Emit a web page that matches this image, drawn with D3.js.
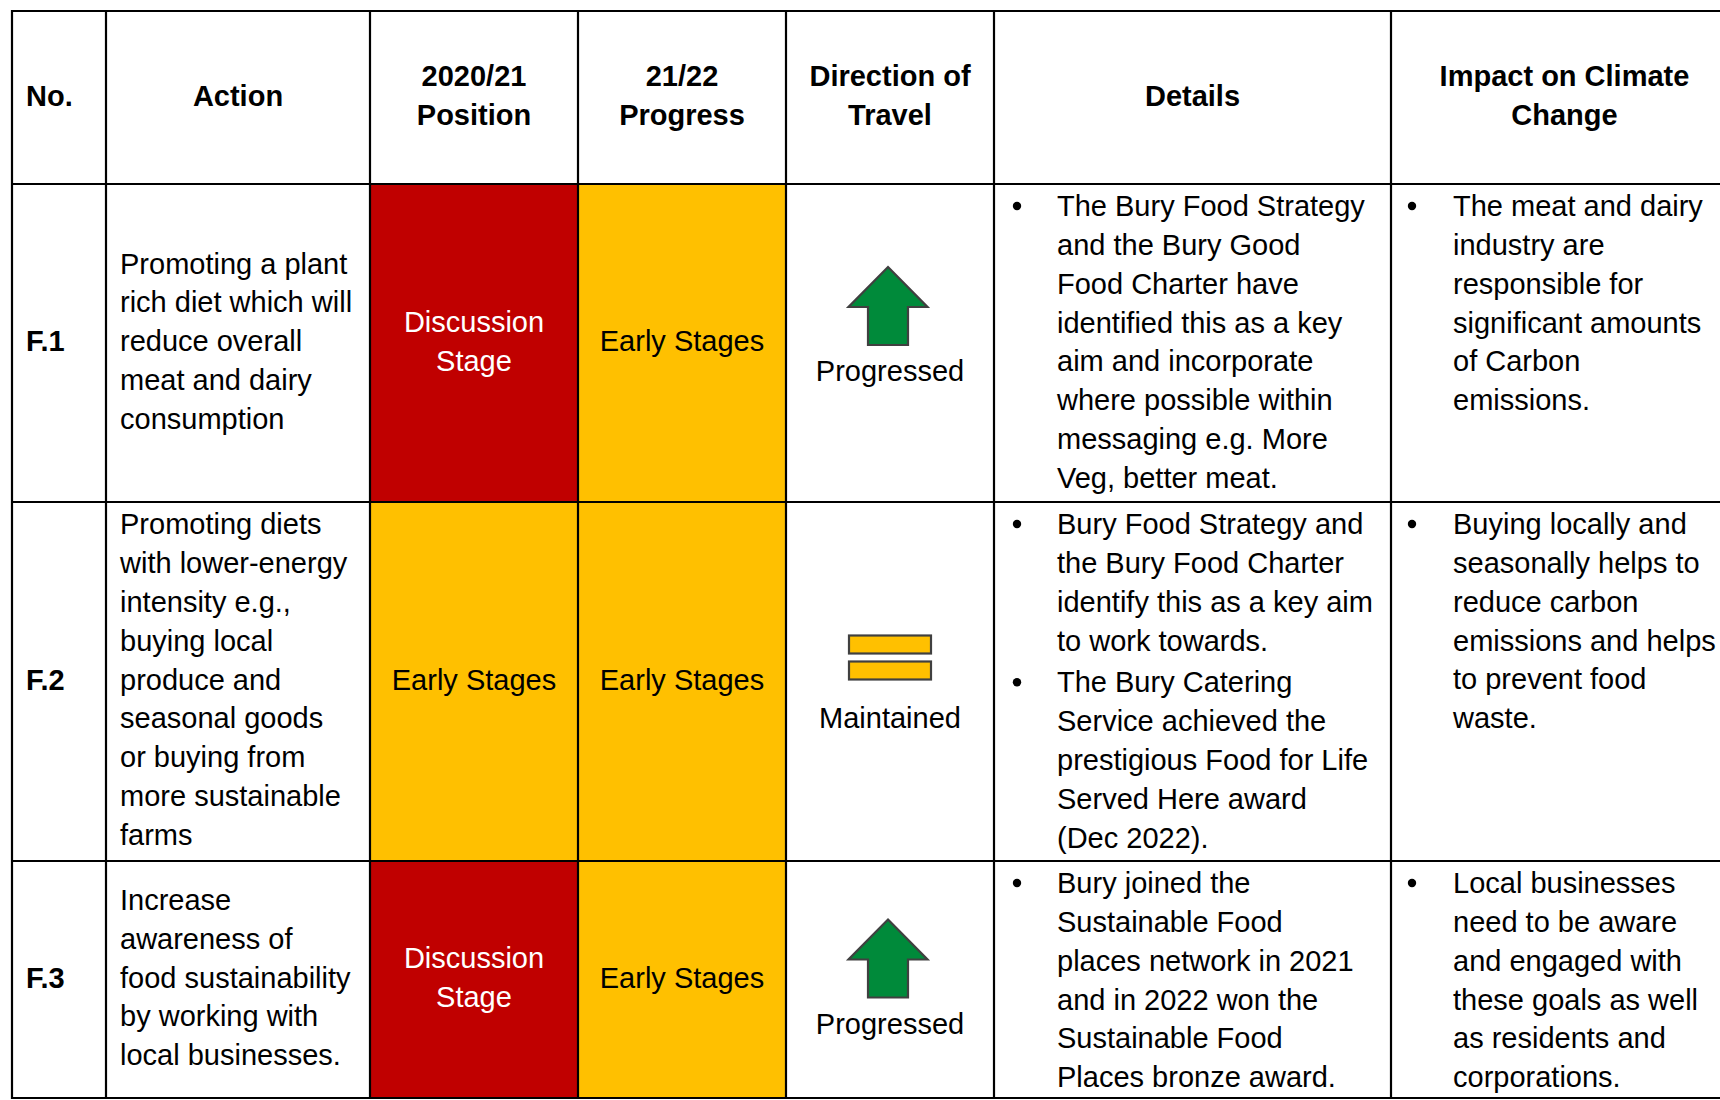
<!DOCTYPE html>
<html><head><meta charset="utf-8">
<script src="https://cdn.jsdelivr.net/npm/d3@7"></script>
<style>html,body{margin:0;padding:0;background:#fff;overflow:hidden}svg{display:block;font-family:"Liberation Sans",Arial,sans-serif}</style>
</head><body><svg id="c" width="1720" height="1100"></svg>
<script>
// ---- data ----
const headers = [["No."],["Action"],["2020/21","Position"],["21/22","Progress"],["Direction of","Travel"],["Details"],["Impact on Climate","Change"]];
const ids = ["F.1","F.2","F.3"];
const actions = [
  ["Promoting a plant","rich diet which will","reduce overall","meat and dairy","consumption"],
  ["Promoting diets","with lower-energy","intensity e.g.,","buying local","produce and","seasonal goods","or buying from","more sustainable","farms"],
  ["Increase","awareness of","food sustainability","by working with","local businesses."]
];
const position2021 = ["Discussion Stage","Early Stages","Discussion Stage"];
const progress2122 = ["Early Stages","Early Stages","Early Stages"];
const direction = ["Progressed","Maintained","Progressed"];
const details = [
  [["The Bury Food Strategy","and the Bury Good","Food Charter have","identified this as a key","aim and incorporate","where possible within","messaging e.g. More","Veg, better meat."]],
  [["Bury Food Strategy and","the Bury Food Charter","identify this as a key aim","to work towards."],
   ["The Bury Catering","Service achieved the","prestigious Food for Life","Served Here award","(Dec 2022)."]],
  [["Bury joined the","Sustainable Food","places network in 2021","and in 2022 won the","Sustainable Food","Places bronze award."]]
];
const impact = [
  [["The meat and dairy","industry are","responsible for","significant amounts","of Carbon","emissions."]],
  [["Buying locally and","seasonally helps to","reduce carbon","emissions and helps","to prevent food","waste."]],
  [["Local businesses","need to be aware","and engaged with","these goals as well","as residents and","corporations."]]
];
const statusLevels = ["Discussion Stage","Early Stages"];

// ---- layout / style ----
const colEdges = [12,106,370,578,786,994,1391,1738];
const rowEdges = [11,184,502,861,1098];
const FS = 29, LH = 38.8, CSHIFT = -2;
const statusFill = d3.scaleOrdinal().domain(statusLevels).range(["#C00000","#FFC000"]);
const statusText = d3.scaleOrdinal().domain(statusLevels).range(["#ffffff","#000000"]);
const dirNudge = [-17, 2, -1];

const svg = d3.select("#c");
const cx = i => (colEdges[i]+colEdges[i+1])/2;
const rTop = r => rowEdges[r+1], rBot = r => rowEdges[r+2];
const rMid = r => (rTop(r)+rBot(r))/2 + CSHIFT;

// status fills
const rows = d3.range(ids.length);
rows.forEach(r=>{
  [[2,position2021[r]],[3,progress2122[r]]].forEach(([c,v])=>{
    svg.append("rect").attr("x",colEdges[c]).attr("y",rTop(r)).attr("width",colEdges[c+1]-colEdges[c]).attr("height",rBot(r)-rTop(r)).attr("fill",statusFill(v));
  });
});

function lines(g, arr, x, y0, anchor, weight, fill){
  arr.forEach((t,i)=>{
    g.append("text").attr("x",x).attr("y",y0+i*LH).attr("dy","0.35em").attr("text-anchor",anchor)
      .attr("font-size",FS).attr("font-weight",weight||"normal").attr("fill",fill||"#000").text(t);
  });
}

// headers
const hMid = (rowEdges[0]+rowEdges[1])/2 + CSHIFT;
headers.forEach((h,i)=>{
  const y0 = hMid - (h.length-1)*LH/2;
  if(i===0) lines(svg,h,colEdges[0]+14,y0,"start","bold");
  else lines(svg,h,cx(i),y0,"middle","bold");
});

function wrap(text, maxW){
  const words = text.split(" "); const out=[]; let cur="";
  const t = svg.append("text").attr("font-size",FS);
  words.forEach(w=>{
    const trial = cur? cur+" "+w : w;
    t.text(trial);
    if(t.node().getComputedTextLength() > maxW && cur){ out.push(cur); cur=w; } else cur=trial;
  });
  out.push(cur); t.remove(); return out;
}

rows.forEach(r=>{
  const m = rMid(r);
  // id
  lines(svg,[ids[r]],colEdges[0]+14,m,"start","bold");
  // action
  const a = actions[r];
  let y0 = m - (a.length-1)*LH/2;
  if (y0 < rTop(r)+22) y0 = rTop(r)+22;
  lines(svg,a,colEdges[1]+14,y0,"start");
  // status cells
  [[2,position2021[r]],[3,progress2122[r]]].forEach(([c,v])=>{
    const w = wrap(v, colEdges[c+1]-colEdges[c]-12);
    lines(svg,w,cx(c),m-(w.length-1)*LH/2,"middle","normal",statusText(v));
  });
  // direction
  const dx = cx(4);
  const dm = m - CSHIFT;
  const g = svg.append("g");
  if(direction[r]==="Progressed"){
    const top = dm - 59 + dirNudge[r];
    const p = d3.path();
    p.moveTo(dx-2, top); p.lineTo(dx+37.5, top+40); p.lineTo(dx+18, top+40); p.lineTo(dx+18, top+78);
    p.lineTo(dx-22, top+78); p.lineTo(dx-22, top+40); p.lineTo(dx-41.5, top+40); p.closePath();
    g.append("path").attr("d",p.toString()).attr("fill","#008A3A").attr("stroke","#404040").attr("stroke-width",2.2).attr("stroke-linejoin","miter");
    lines(g,[direction[r]],dx,top+104,"middle");
  } else {
    const top = dm - 48 + dirNudge[r];
    [0,26].forEach(o=>{
      g.append("rect").attr("x",dx-41).attr("y",top+o).attr("width",82).attr("height",18)
        .attr("fill","#FFC000").attr("stroke","#404040").attr("stroke-width",2.2);
    });
    lines(g,[direction[r]],dx,top+82,"middle");
  }
  // details & impact bullets
  [[5,details[r],23,63],[6,impact[r],21,62]].forEach(([c,paras,bx,tx])=>{
    let y = rTop(r)+22;
    paras.forEach(par=>{
      svg.append("circle").attr("cx",colEdges[c]+bx).attr("cy",y).attr("r",4.2).attr("fill","#000");
      lines(svg,par,colEdges[c]+tx,y,"start");
      y += par.length*LH + 3;
    });
  });
});

// grid lines
const gl = svg.append("g").attr("stroke","#000").attr("stroke-width",2.2);
rowEdges.forEach(y=> gl.append("line").attr("x1",colEdges[0]-1).attr("x2",colEdges[colEdges.length-1]).attr("y1",y).attr("y2",y));
colEdges.forEach(x=> gl.append("line").attr("x1",x).attr("x2",x).attr("y1",rowEdges[0]-1).attr("y2",rowEdges[rowEdges.length-1]+1));
</script></body></html>
